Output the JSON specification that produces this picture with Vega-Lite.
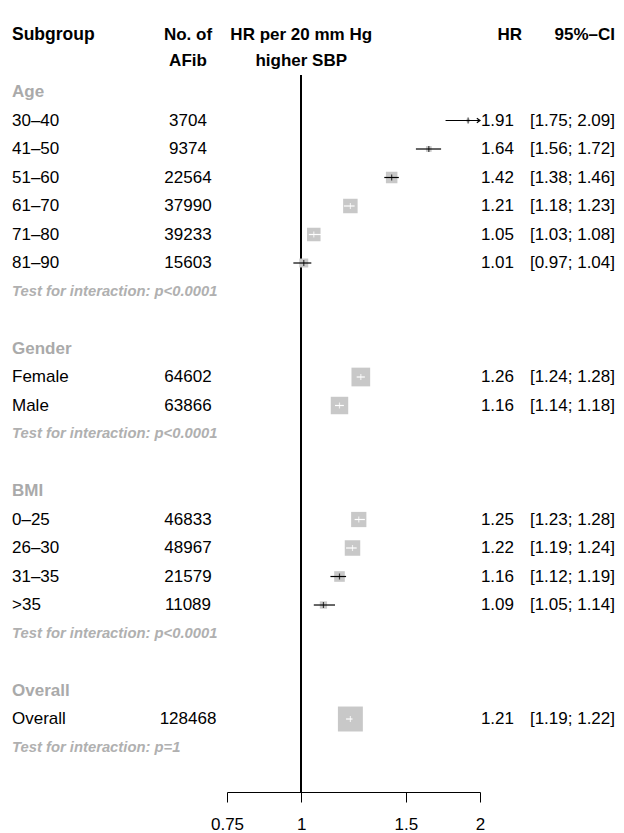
{
  "$schema": "https://vega.github.io/schema/vega-lite/v6.json",
  "padding": 0,
  "spacing": 0,
  "bounds": "flush",
  "config": {
    "view": {"stroke": null},
    "font": "Liberation Sans",
    "concat": {"spacing": 0}
  },
  "datasets": {
    "rows": [
      {"row": 0, "type": "group", "label": "Age"},
      {"row": 1, "type": "item", "label": "30–40", "n": 3704, "hr": 1.91, "lo": 1.75, "hi": 2.09, "weight": 490},
      {"row": 2, "type": "item", "label": "41–50", "n": 9374, "hr": 1.64, "lo": 1.56, "hi": 1.72, "weight": 1300},
      {"row": 3, "type": "item", "label": "51–60", "n": 22564, "hr": 1.42, "lo": 1.38, "hi": 1.46, "weight": 5300},
      {"row": 4, "type": "item", "label": "61–70", "n": 37990, "hr": 1.21, "lo": 1.18, "hi": 1.23, "weight": 8400},
      {"row": 5, "type": "item", "label": "71–80", "n": 39233, "hr": 1.05, "lo": 1.03, "hi": 1.08, "weight": 7300},
      {"row": 6, "type": "item", "label": "81–90", "n": 15603, "hr": 1.01, "lo": 0.97, "hi": 1.04, "weight": 3200},
      {"row": 7, "type": "test", "label": "Test for interaction: p<0.0001"},
      {"row": 9, "type": "group", "label": "Gender"},
      {"row": 10, "type": "item", "label": "Female", "n": 64602, "hr": 1.26, "lo": 1.24, "hi": 1.28, "weight": 14000},
      {"row": 11, "type": "item", "label": "Male", "n": 63866, "hr": 1.16, "lo": 1.14, "hi": 1.18, "weight": 12200},
      {"row": 12, "type": "test", "label": "Test for interaction: p<0.0001"},
      {"row": 14, "type": "group", "label": "BMI"},
      {"row": 15, "type": "item", "label": "0–25", "n": 46833, "hr": 1.25, "lo": 1.23, "hi": 1.28, "weight": 9300},
      {"row": 16, "type": "item", "label": "26–30", "n": 48967, "hr": 1.22, "lo": 1.19, "hi": 1.24, "weight": 9600},
      {"row": 17, "type": "item", "label": "31–35", "n": 21579, "hr": 1.16, "lo": 1.12, "hi": 1.19, "weight": 4500},
      {"row": 18, "type": "item", "label": ">35", "n": 11089, "hr": 1.09, "lo": 1.05, "hi": 1.14, "weight": 2100},
      {"row": 19, "type": "test", "label": "Test for interaction: p<0.0001"},
      {"row": 21, "type": "group", "label": "Overall"},
      {"row": 22, "type": "item", "label": "Overall", "n": 128468, "hr": 1.21, "lo": 1.19, "hi": 1.22, "weight": 24900},
      {"row": 23, "type": "test", "label": "Test for interaction: p=1"}
    ],
    "headers": [
      {"col": "Subgroup", "text": "Subgroup"},
      {"col": "No. of AFib", "text": "No. of\nAFib"},
      {"col": "effect", "text": "HR per 20 mm Hg\nhigher SBP"},
      {"col": "HR", "text": "HR"},
      {"col": "95%–CI", "text": "95%–CI"}
    ]
  },
  "hconcat": [
    {
      "width": 227,
      "height": 792,
      "layer": [
        {
          "data": {"name": "headers"},
          "transform": [{"filter": "datum.col == 'Subgroup'"}],
          "mark": {"type": "text", "align": "left", "baseline": "middle", "fontSize": 17.5, "fontWeight": "bold", "color": "black"},
          "encoding": {
            "x": {"datum": "Subgroup", "type": "nominal", "scale": {"type": "point", "domain": ["Subgroup", "No. of AFib"], "range": [12, 188], "padding": 0}, "axis": null},
            "y": {"datum": -2, "type": "quantitative", "scale": {"domain": [-3.228, 24.561], "reverse": true, "nice": false, "zero": false}, "axis": null},
            "text": {"field": "text"}
          }
        },
        {
          "data": {"name": "headers"},
          "transform": [{"filter": "datum.col == 'No. of AFib'"}],
          "mark": {"type": "text", "align": "center", "baseline": "middle", "fontSize": 17, "fontWeight": "bold", "color": "black", "lineBreak": "\n", "lineHeight": 26},
          "encoding": {
            "x": {"datum": "No. of AFib", "type": "nominal"},
            "y": {"datum": -2, "type": "quantitative"},
            "text": {"field": "text"}
          }
        },
        {
          "data": {"name": "rows"},
          "transform": [{"filter": "datum.type == 'group'"}],
          "mark": {"type": "text", "align": "left", "baseline": "middle", "fontSize": 17, "fontWeight": "bold", "color": "#aaaaaa"},
          "encoding": {
            "x": {"datum": "Subgroup", "type": "nominal"},
            "y": {"field": "row", "type": "quantitative"},
            "text": {"field": "label"}
          }
        },
        {
          "data": {"name": "rows"},
          "transform": [{"filter": "datum.type == 'item'"}],
          "mark": {"type": "text", "align": "left", "baseline": "middle", "fontSize": 17, "color": "black"},
          "encoding": {
            "x": {"datum": "Subgroup", "type": "nominal"},
            "y": {"field": "row", "type": "quantitative"},
            "text": {"field": "label"}
          }
        },
        {
          "data": {"name": "rows"},
          "transform": [{"filter": "datum.type == 'test'"}],
          "mark": {"type": "text", "align": "left", "baseline": "middle", "fontSize": 14.8, "fontWeight": "bold", "fontStyle": "italic", "color": "#b0b0b0"},
          "encoding": {
            "x": {"datum": "Subgroup", "type": "nominal"},
            "y": {"field": "row", "type": "quantitative"},
            "text": {"field": "label"}
          }
        },
        {
          "data": {"name": "rows"},
          "transform": [{"filter": "datum.type == 'item'"}],
          "mark": {"type": "text", "align": "center", "baseline": "middle", "fontSize": 17, "color": "black"},
          "encoding": {
            "x": {"datum": "No. of AFib", "type": "nominal"},
            "y": {"field": "row", "type": "quantitative"},
            "text": {"field": "n", "type": "quantitative", "format": "d"}
          }
        }
      ]
    },
    {
      "width": 253,
      "height": 792,
      "layer": [
        {
          "data": {"name": "headers"},
          "transform": [{"filter": "datum.col == 'effect'"}],
          "mark": {"type": "text", "align": "center", "baseline": "middle", "fontSize": 17, "fontWeight": "bold", "color": "black", "lineBreak": "\n", "lineHeight": 26},
          "encoding": {
            "x": {"datum": 1, "type": "quantitative", "scale": {"type": "log", "domain": [0.75, 2], "clamp": true, "nice": false},
              "axis": {"values": [0.75, 1, 1.5, 2], "format": "~g", "title": null, "grid": false, "tickSize": 10, "tickColor": "black", "domainColor": "black", "labelFontSize": 17, "labelColor": "black", "labelPadding": 14, "labelFlush": false, "labelFont": "Liberation Sans"}},
            "y": {"datum": -2, "type": "quantitative", "scale": {"domain": [-3.228, 24.561], "reverse": true, "nice": false, "zero": false}, "axis": null},
            "text": {"field": "text"}
          }
        },
        {
          "data": {"name": "rows"},
          "mark": {"type": "rule", "color": "black", "strokeWidth": 1.2},
          "encoding": {
            "x": {"datum": 1, "type": "quantitative"},
            "y": {"datum": -0.6, "type": "quantitative"},
            "y2": {"datum": 24.561}
          }
        },
        {
          "data": {"name": "rows"},
          "transform": [{"filter": "datum.type == 'item'"}],
          "mark": {"type": "square", "filled": true, "opacity": 1, "color": "#c8c8c8"},
          "encoding": {
            "x": {"field": "hr", "type": "quantitative"},
            "y": {"field": "row", "type": "quantitative"},
            "size": {"field": "weight", "type": "quantitative", "scale": {"type": "linear", "domain": [0, 25000], "range": [0, 625], "zero": true}, "legend": null}
          }
        },
        {
          "data": {"name": "rows"},
          "transform": [{"filter": "datum.type == 'item'"}],
          "mark": {"type": "rule", "strokeWidth": 1.2},
          "encoding": {
            "x": {"field": "lo", "type": "quantitative"},
            "x2": {"field": "hi"},
            "y": {"field": "row", "type": "quantitative"},
            "color": {"condition": {"test": "179 * log(datum.hi / datum.lo) / log(2) < sqrt(datum.weight / 40)", "value": "white"}, "value": "black"}
          }
        },
        {
          "data": {"name": "rows"},
          "transform": [{"filter": "datum.type == 'item'"}],
          "mark": {"type": "tick", "orient": "vertical", "size": 6, "thickness": 1.2},
          "encoding": {
            "x": {"field": "hr", "type": "quantitative"},
            "y": {"field": "row", "type": "quantitative"},
            "color": {"condition": {"test": "179 * log(datum.hi / datum.lo) / log(2) < sqrt(datum.weight / 40)", "value": "white"}, "value": "black"}
          }
        },
        {
          "data": {"name": "rows"},
          "transform": [{"filter": "datum.type == 'item' && datum.hi > 2"}],
          "mark": {"type": "point", "shape": "M-1,-0.7L0,0L-1,0.7", "filled": false, "stroke": "black", "strokeWidth": 1.2, "size": 40, "opacity": 1},
          "encoding": {
            "x": {"field": "hi", "type": "quantitative"},
            "y": {"field": "row", "type": "quantitative"}
          }
        }
      ]
    },
    {
      "width": 144,
      "height": 792,
      "layer": [
        {
          "data": {"name": "headers"},
          "transform": [{"filter": "datum.col == 'HR'"}],
          "mark": {"type": "text", "align": "right", "baseline": "middle", "fontSize": 17, "fontWeight": "bold", "color": "black", "dx": 8},
          "encoding": {
            "x": {"datum": "HR", "type": "nominal", "scale": {"type": "point", "domain": ["HR", "95%–CI"], "range": [34, 135], "padding": 0}, "axis": null},
            "y": {"datum": -2, "type": "quantitative", "scale": {"domain": [-3.228, 24.561], "reverse": true, "nice": false, "zero": false}, "axis": null},
            "text": {"field": "text"}
          }
        },
        {
          "data": {"name": "headers"},
          "transform": [{"filter": "datum.col == '95%–CI'"}],
          "mark": {"type": "text", "align": "right", "baseline": "middle", "fontSize": 17, "fontWeight": "bold", "color": "black"},
          "encoding": {
            "x": {"datum": "95%–CI", "type": "nominal"},
            "y": {"datum": -2, "type": "quantitative"},
            "text": {"field": "text"}
          }
        },
        {
          "data": {"name": "rows"},
          "transform": [{"filter": "datum.type == 'item'"}],
          "mark": {"type": "text", "align": "right", "baseline": "middle", "fontSize": 17, "color": "black"},
          "encoding": {
            "x": {"datum": "HR", "type": "nominal"},
            "y": {"field": "row", "type": "quantitative"},
            "text": {"field": "hr", "type": "quantitative", "format": ".2f"}
          }
        },
        {
          "data": {"name": "rows"},
          "transform": [
            {"filter": "datum.type == 'item'"},
            {"calculate": "'[' + format(datum.lo, '.2f') + '; ' + format(datum.hi, '.2f') + ']'", "as": "ci"}
          ],
          "mark": {"type": "text", "align": "right", "baseline": "middle", "fontSize": 17, "color": "black"},
          "encoding": {
            "x": {"datum": "95%–CI", "type": "nominal"},
            "y": {"field": "row", "type": "quantitative"},
            "text": {"field": "ci"}
          }
        }
      ]
    }
  ]
}
